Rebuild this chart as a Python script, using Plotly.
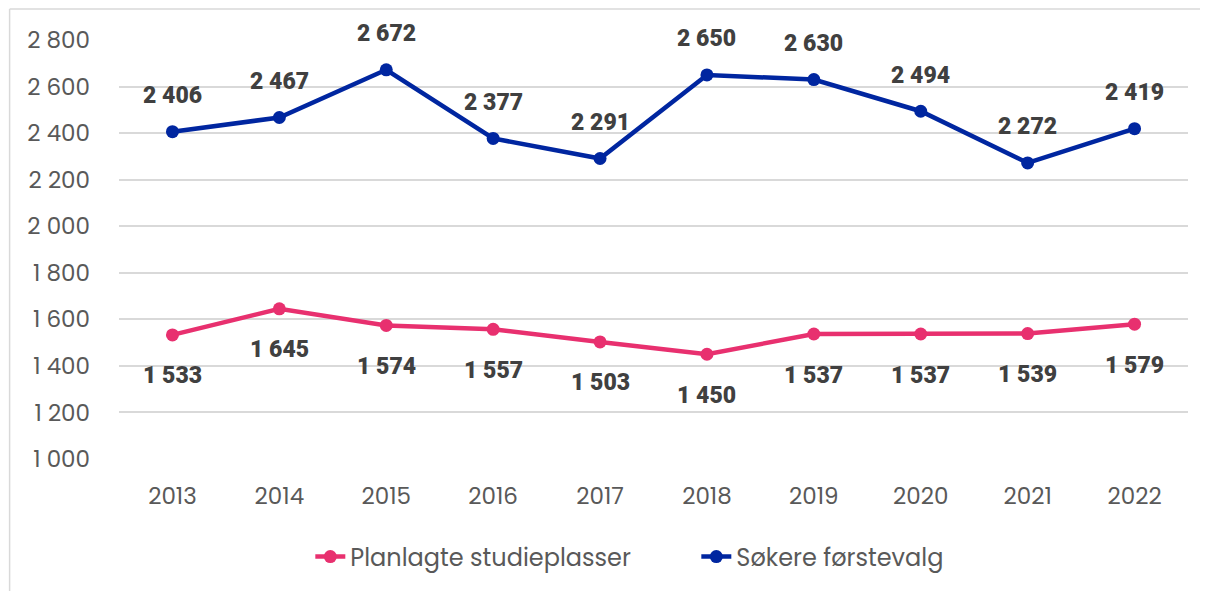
import plotly.graph_objects as go

years = ["2013", "2014", "2015", "2016", "2017", "2018", "2019", "2020", "2021", "2022"]
planlagte = [1533, 1645, 1574, 1557, 1503, 1450, 1537, 1537, 1539, 1579]
sokere = [2406, 2467, 2672, 2377, 2291, 2650, 2630, 2494, 2272, 2419]
y_ticks = [1000, 1200, 1400, 1600, 1800, 2000, 2200, 2400, 2600, 2800]

PINK = "#E8306F"
BLUE = "#0026A0"
LABEL_COLOR = "#404040"
TICK_COLOR = "#595959"
FONT = "Poppins, Inter, Roboto, sans-serif"

OFF = 8  # page body margin

def fmt(v):
    return f"{v:,}".replace(",", " ")

fig = go.Figure()
fig.add_trace(go.Scatter(x=years, y=planlagte, name="Planlagte studieplasser",
                         mode="lines+markers", line=dict(color=PINK, width=4.5),
                         marker=dict(size=13, color=PINK)))
fig.add_trace(go.Scatter(x=years, y=sokere, name="Søkere førstevalg",
                         mode="lines+markers", line=dict(color=BLUE, width=4.5),
                         marker=dict(size=13, color=BLUE)))

lab_font = dict(family="Roboto, Inter, sans-serif", size=23, color=LABEL_COLOR, weight=900)
annotations = []
for i, v in enumerate(sokere):
    annotations.append(dict(x=i, y=v, xref="x", yref="y", text=fmt(v), showarrow=False,
                            yshift=36, font=lab_font))
for i, v in enumerate(planlagte):
    annotations.append(dict(x=i, y=v, xref="x", yref="y", text=fmt(v), showarrow=False,
                            yshift=-41, font=lab_font))

L, T, R, B = 118.5 - OFF, 40 - OFF, 1188.5 - OFF, 459 - OFF
W, H = 1208 - OFF, 591 - OFF
pw, ph = R - L, B - T
def px(x):
    return (x - OFF - L) / pw
def py(y):
    return (B - (y - OFF)) / ph

fig.update_layout(
    width=W, height=H,
    margin=dict(l=L, r=W - R, t=T, b=H - B, pad=0),
    paper_bgcolor="white", plot_bgcolor="white",
    font=dict(family=FONT, color=TICK_COLOR),
    showlegend=True,
    legend=dict(orientation="h", x=px(310), xanchor="left", y=py(557), yanchor="middle",
                font=dict(size=24, color=TICK_COLOR), traceorder="normal",
                entrywidth=341, entrywidthmode="pixels"),
    annotations=annotations,
    xaxis=dict(type="category", showgrid=False, showline=False, ticks="",
               tickfont=dict(size=23, color=TICK_COLOR),
               range=[-0.5, len(years) - 0.5], ticklabelstandoff=21),
    yaxis=dict(range=[1000, 2800], tickvals=y_ticks, ticktext=[fmt(t) for t in y_ticks],
               showgrid=True, gridcolor="#D9D9D9", gridwidth=2, zeroline=False,
               tickfont=dict(size=23, color=TICK_COLOR), ticklabelstandoff=28),
    shapes=[
        dict(type="line", xref="paper", yref="paper", x0=px(9), x1=px(1210), y0=py(9), y1=py(9),
             line=dict(color="#D9D9D9", width=1.5)),
        dict(type="line", xref="paper", yref="paper", x0=px(9), x1=px(9), y0=py(9), y1=py(600),
             line=dict(color="#D9D9D9", width=1.5)),
    ],
)

fig.write_html("out.html")
